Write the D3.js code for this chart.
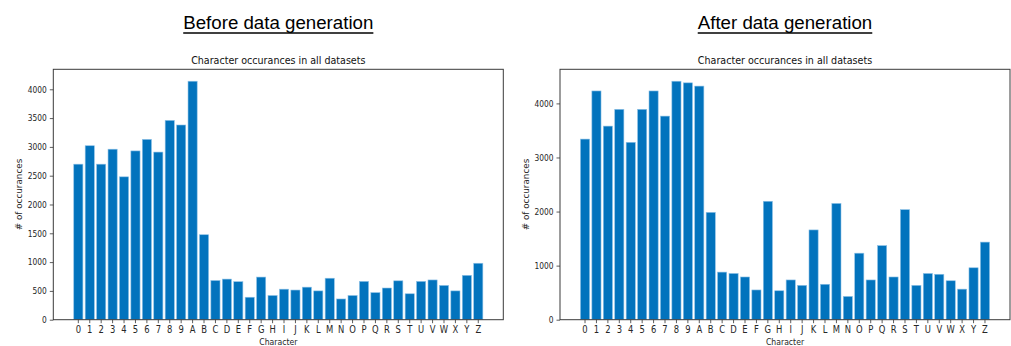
<!DOCTYPE html>
<html>
<head>
<meta charset="utf-8">
<script src="https://cdn.jsdelivr.net/npm/d3@7"></script>
<style>
  html, body { margin: 0; padding: 0; background: #fff; }
  svg { display: block; }
</style>
</head>
<body>
<svg id="chart" width="1011" height="346"></svg>
<script>
// Character labels shared by both panels
const categories = ["0","1","2","3","4","5","6","7","8","9",
  "A","B","C","D","E","F","G","H","I","J","K","L","M",
  "N","O","P","Q","R","S","T","U","V","W","X","Y","Z"];

// Occurrence counts per character, before generating extra data
const beforeCounts = [2700, 3020, 2700, 2960, 2480, 2930, 3130, 2910, 3460, 3380,
  4140, 1475, 680, 705, 660, 390, 740, 420, 530, 515, 565, 500, 720,
  360, 420, 665, 470, 550, 675, 450, 665, 690, 595, 500, 770, 980];

// Occurrence counts per character, after generating extra data
const afterCounts = [3340, 4230, 3580, 3890, 3280, 3890, 4230, 3765, 4410, 4380,
  4320, 1985, 880, 855, 790, 550, 2190, 535, 735, 635, 1660, 655, 2150,
  430, 1230, 735, 1370, 790, 2035, 635, 855, 840, 720, 565, 960, 1435];

// Y tick values for each panel
const beforeTicks = [0, 500, 1000, 1500, 2000, 2500, 3000, 3500, 4000];
const afterTicks = [0, 1000, 2000, 3000, 4000];

const headings = ["Before data generation", "After data generation"];
const subtitle = "Character occurances in all datasets";
const xLabel = "Character";
const yLabel = "# of occurances";

const svg = d3.select("#chart");
const BAR = "#0273bd";
const INK = "#262626";
const SX = 0.86; // horizontal squeeze of the plot text

function panel(left, right, values, ticks, heading, labelX) {
  const top = 69.3, bottom = 319.7;
  const g = svg.append("g");

  const x = d3.scaleBand()
    .domain(categories)
    .range([left, right])
    .paddingInner(0.2)
    .paddingOuter(1.79)
    .align(0.5);

  const y = d3.scaleLinear()
    .domain([0, d3.max(values) * 1.05])
    .range([bottom, top]);

  // bars
  g.append("g").selectAll("rect")
    .data(values)
    .join("rect")
    .attr("x", (d, i) => x(categories[i]))
    .attr("width", x.bandwidth())
    .attr("y", d => y(d))
    .attr("height", d => y(0) - y(d))
    .attr("fill", BAR)
    .attr("stroke", "#8cc0e6")
    .attr("stroke-width", 0.6);

  // y axis
  const ya = g.append("g")
    .attr("transform", `translate(${left},0)`)
    .call(d3.axisLeft(y).tickValues(ticks).tickSize(3.5).tickPadding(3).tickFormat(d3.format("d")));
  ya.select(".domain").remove();
  ya.selectAll(".tick line").attr("stroke", "#333").attr("stroke-width", 0.8);
  ya.selectAll(".tick text")
    .attr("x", 0)
    .attr("transform", `translate(${-6.5},0) scale(${SX},1)`)
    .attr("fill", INK)
    .style("font-family", "DejaVu Sans")
    .style("font-size", "8.7px");

  // x axis
  const xa = g.append("g")
    .attr("transform", `translate(0,${bottom})`)
    .call(d3.axisBottom(x).tickSize(3.5).tickPadding(3));
  xa.select(".domain").remove();
  xa.selectAll(".tick line").attr("stroke", "#333").attr("stroke-width", 0.8);
  xa.selectAll(".tick text")
    .attr("transform", `scale(${SX},1)`)
    .attr("fill", INK)
    .style("font-family", "DejaVu Sans")
    .style("font-size", "9.8px");

  // frame
  g.append("rect")
    .attr("x", left).attr("y", top)
    .attr("width", right - left).attr("height", bottom - top)
    .attr("fill", "none")
    .attr("stroke", "#3a3a3a")
    .attr("stroke-width", 1);

  const cx = (left + right) / 2;

  // axes title
  g.append("text")
    .attr("transform", `translate(${cx},64) scale(0.91,1)`)
    .attr("text-anchor", "middle")
    .attr("fill", "#111")
    .style("font-family", "DejaVu Sans")
    .style("font-size", "10.5px")
    .text(subtitle);

  // x label
  g.append("text")
    .attr("transform", `translate(${cx},344.5) scale(${SX},1)`)
    .attr("text-anchor", "middle")
    .attr("fill", INK)
    .style("font-family", "DejaVu Sans")
    .style("font-size", "9px")
    .text(xLabel);

  // y label
  g.append("text")
    .attr("transform", `translate(${labelX},${(top + bottom) / 2}) rotate(-90)`)
    .attr("text-anchor", "middle")
    .attr("fill", INK)
    .style("font-family", "DejaVu Sans")
    .style("font-size", "8.8px")
    .text(yLabel);

  // underlined heading
  const h = g.append("text")
    .attr("x", cx).attr("y", 29)
    .attr("text-anchor", "middle")
    .attr("fill", "#000")
    .style("font-family", "Liberation Sans, Arial, sans-serif")
    .style("font-size", "18.7px")
    .text(heading);
  const w = h.node().getComputedTextLength();
  g.append("line")
    .attr("x1", cx - w / 2).attr("x2", cx + w / 2)
    .attr("y1", 33).attr("y2", 33)
    .attr("stroke", "#000")
    .attr("stroke-width", 1.3);
}

panel(53.3, 503.3, beforeCounts, beforeTicks, headings[0], 22);
panel(560, 1010, afterCounts, afterTicks, headings[1], 529);
</script>
</body>
</html>
